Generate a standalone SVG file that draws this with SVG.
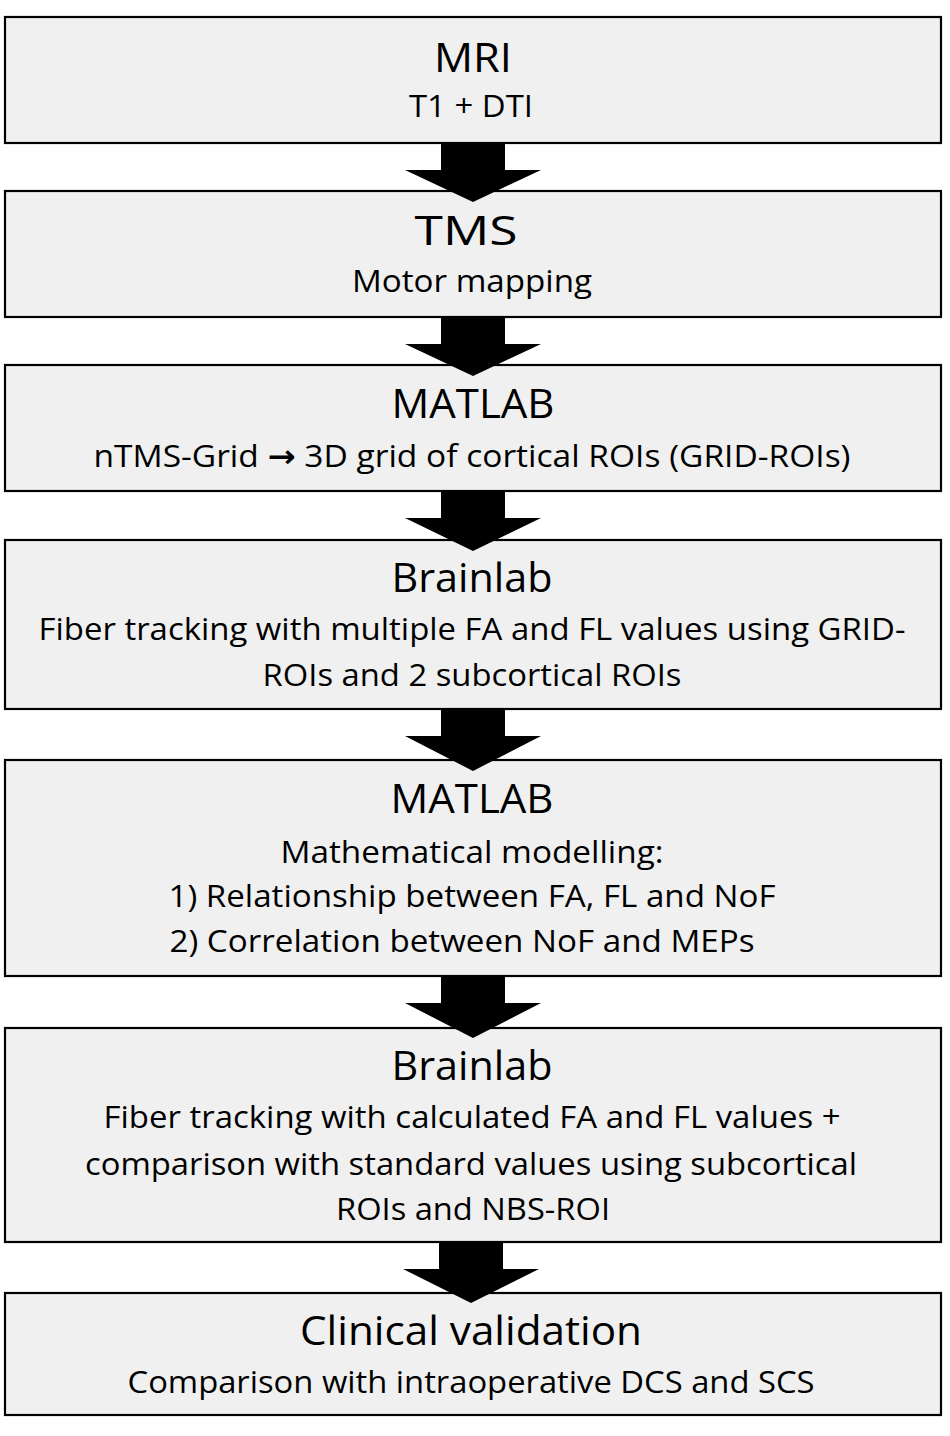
<svg xmlns="http://www.w3.org/2000/svg" width="950" height="1436" viewBox="0 0 950 1436">
<style>
.box{fill:#f0f0f0;stroke:#000;stroke-width:2.2}
.t{font-family:"Open Sans","Noto Sans","Liberation Sans",sans-serif;font-size:41px;fill:#000;text-anchor:middle}
.s{font-family:"Open Sans","Noto Sans","Liberation Sans",sans-serif;font-size:31px;fill:#000;text-anchor:middle}
.ar{font-family:"DejaVu Sans",sans-serif;font-weight:bold}
.arr{fill:#000}
</style>
<rect width="950" height="1436" fill="#fff"/>
<g id="n1"><rect class="box" x="5" y="17" width="936" height="126"/>
<text class="t" x="473" y="72" textLength="78" lengthAdjust="spacingAndGlyphs">MRI</text>
<text class="s" x="471" y="117" textLength="124" lengthAdjust="spacingAndGlyphs">T1 + DTI</text></g>
<g id="n2"><rect class="box" x="5" y="191" width="936" height="126"/>
<text class="t" x="466" y="245" textLength="103" lengthAdjust="spacingAndGlyphs">TMS</text>
<text class="s" x="472" y="292" textLength="240" lengthAdjust="spacingAndGlyphs">Motor mapping</text></g>
<g id="n3"><rect class="box" x="5" y="365" width="936" height="126"/>
<text class="t" x="473" y="418" textLength="163" lengthAdjust="spacingAndGlyphs">MATLAB</text>
<text class="s" x="472" y="467" textLength="757" lengthAdjust="spacingAndGlyphs">nTMS-Grid <tspan class="ar">→</tspan> 3D grid of cortical ROIs (GRID-ROIs)</text></g>
<g id="n4"><rect class="box" x="5" y="540" width="936" height="169"/>
<text class="t" x="472" y="592" textLength="161" lengthAdjust="spacingAndGlyphs">Brainlab</text>
<text class="s" x="472" y="640" textLength="867" lengthAdjust="spacingAndGlyphs">Fiber tracking with multiple FA and FL values using GRID-</text>
<text class="s" x="472" y="686" textLength="419" lengthAdjust="spacingAndGlyphs">ROIs and 2 subcortical ROIs</text></g>
<g id="n5"><rect class="box" x="5" y="760" width="936" height="216"/>
<text class="t" x="472" y="813" textLength="163" lengthAdjust="spacingAndGlyphs">MATLAB</text>
<text class="s" x="472" y="863" textLength="383" lengthAdjust="spacingAndGlyphs">Mathematical modelling:</text>
<text class="s" x="472" y="907" textLength="607" lengthAdjust="spacingAndGlyphs">1) Relationship between FA, FL and NoF</text>
<text class="s" x="462" y="952" textLength="585" lengthAdjust="spacingAndGlyphs">2) Correlation between NoF and MEPs</text></g>
<g id="n6"><rect class="box" x="5" y="1028" width="936" height="214"/>
<text class="t" x="472" y="1080" textLength="161" lengthAdjust="spacingAndGlyphs">Brainlab</text>
<text class="s" x="472" y="1128" textLength="737" lengthAdjust="spacingAndGlyphs">Fiber tracking with calculated FA and FL values +</text>
<text class="s" x="471" y="1175" textLength="772" lengthAdjust="spacingAndGlyphs">comparison with standard values using subcortical</text>
<text class="s" x="473" y="1220" textLength="274" lengthAdjust="spacingAndGlyphs">ROIs and NBS-ROI</text></g>
<g id="n7"><rect class="box" x="5" y="1293" width="936" height="122"/>
<text class="t" x="471" y="1345" textLength="342" lengthAdjust="spacingAndGlyphs">Clinical validation</text>
<text class="s" x="471" y="1393" textLength="687" lengthAdjust="spacingAndGlyphs">Comparison with intraoperative DCS and SCS</text></g>
<g id="connectors">
<polygon class="arr" points="441,143 505,143 505,170 541,170 473,202 405,170 441,170"/>
<polygon class="arr" points="441,317 505,317 505,344 541,344 473,376 405,344 441,344"/>
<polygon class="arr" points="441,491 505,491 505,518 541,518 473,551 405,518 441,518"/>
<polygon class="arr" points="441,709 505,709 505,736 541,736 473,771 405,736 441,736"/>
<polygon class="arr" points="441,976 505,976 505,1003 541,1003 473,1038 405,1003 441,1003"/>
<polygon class="arr" points="439,1242 503,1242 503,1269 539,1269 471,1303 403,1269 439,1269"/>
</g>
</svg>
